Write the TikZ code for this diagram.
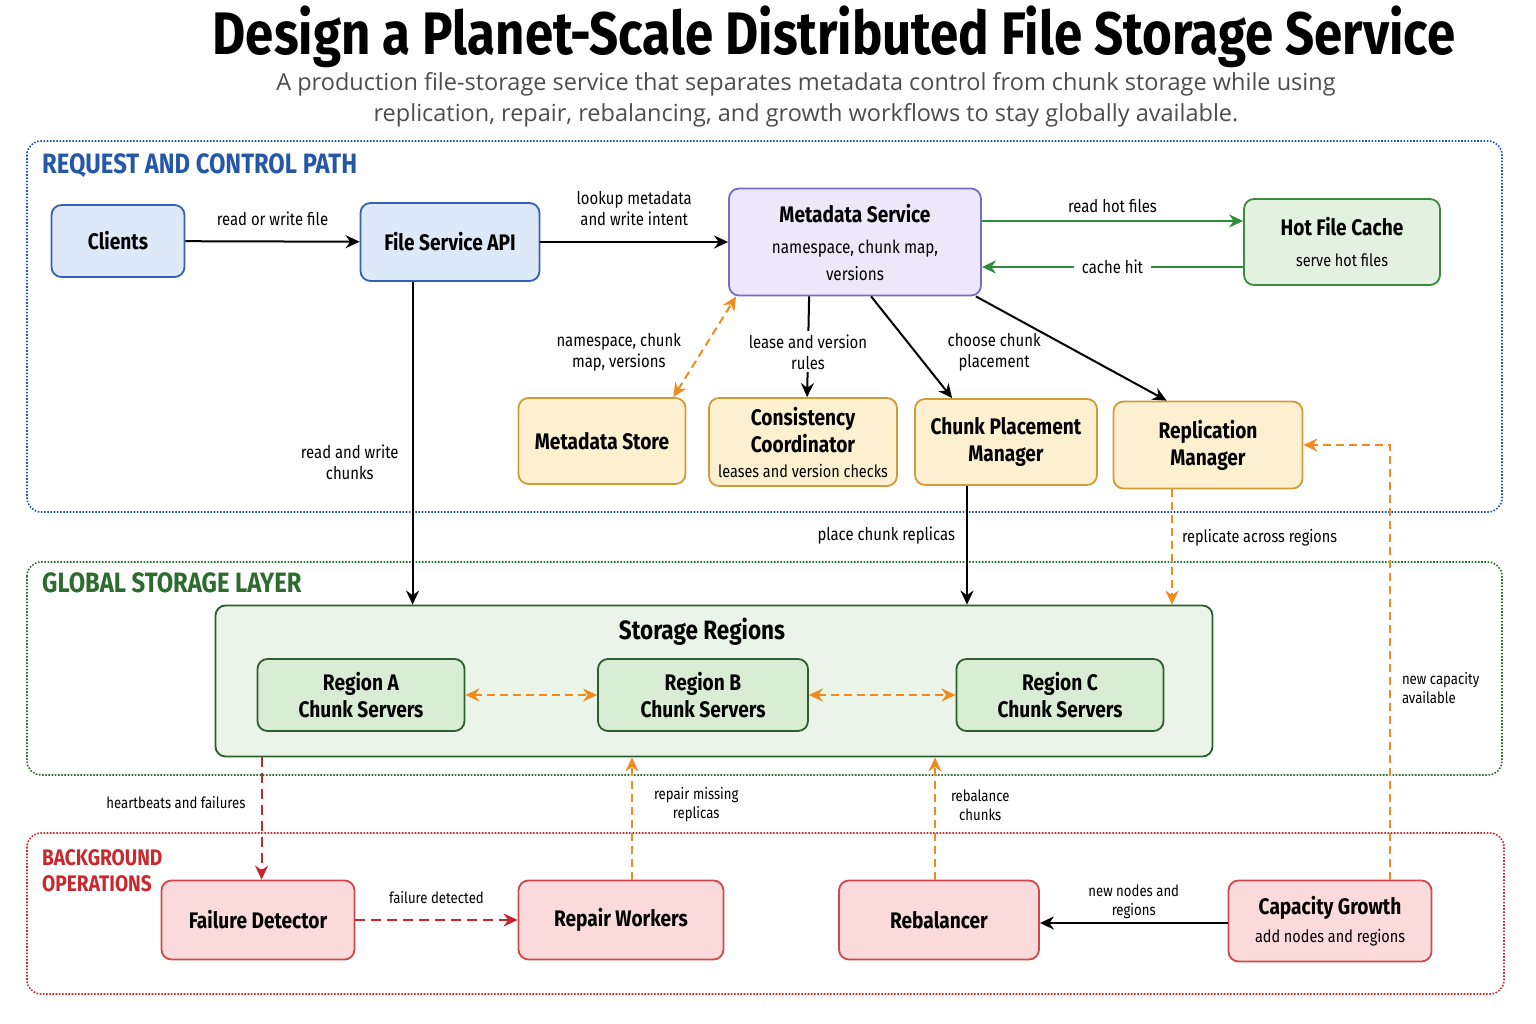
\documentclass[tikz,border=0pt]{standalone}
\usepackage{fontspec}
\setmainfont{Fira Sans}[FakeStretch=0.85]
\newfontfamily\subfont{Open Sans}
\usetikzlibrary{arrows.meta}

\definecolor{blueline}{HTML}{3462B3}
\definecolor{bluefill}{HTML}{DDE8F8}
\definecolor{purpleline}{HTML}{7A6AC8}
\definecolor{purplefill}{HTML}{ECE8F9}
\definecolor{greenline}{HTML}{3C8A3E}
\definecolor{greenfill}{HTML}{E3F2E0}
\definecolor{yellowline}{HTML}{D19B35}
\definecolor{yellowfill}{HTML}{FDF0D0}
\definecolor{darkgreen}{HTML}{2C5E2E}
\definecolor{storefill}{HTML}{EBF4E8}
\definecolor{regionfill}{HTML}{D9EDD4}
\definecolor{redline}{HTML}{D1474A}
\definecolor{redfill}{HTML}{FADADA}
\definecolor{arrorange}{HTML}{F28B1E}
\definecolor{arrred}{HTML}{C2262C}
\definecolor{arrgreen}{HTML}{2E8B3A}
\definecolor{panelblue}{HTML}{2657A6}
\definecolor{panelgreen}{HTML}{2E6B2E}
\definecolor{panelred}{HTML}{C8282E}
\definecolor{subgray}{HTML}{4D4D4D}

\newcommand\headfont{\fontsize{22.5}{27}\selectfont\bfseries}
\newcommand\subtext{\fontsize{17}{23}\selectfont\mdseries}
\newcommand\lblfont{\fontsize{17.5}{21}\selectfont}
\newcommand\smallfont{\fontsize{15.5}{19}\selectfont}
\newcommand\panelfont{\fontsize{28}{27}\selectfont\bfseries}

\begin{document}
\begin{tikzpicture}[x=1pt,y=-1pt,>={Stealth[length=14pt,width=13pt]},
  box/.style={draw,rounded corners=10pt,line width=1.8pt,align=center,font=\headfont,inner sep=2pt},
  bluebox/.style={box,draw=blueline,fill=bluefill},
  purplebox/.style={box,draw=purpleline,fill=purplefill},
  greenbox/.style={box,draw=greenline,fill=greenfill},
  yellowbox/.style={box,draw=yellowline,fill=yellowfill},
  regionbox/.style={box,draw=darkgreen,fill=regionfill},
  redbox/.style={box,draw=redline,fill=redfill},
  panel/.style={rounded corners=14pt,line width=1.6pt,dash pattern=on 1.6pt off 1.6pt},
  panellbl/.style={font=\panelfont,anchor=west,inner sep=0pt},
  lbl/.style={font=\lblfont,align=center,inner sep=3pt},
  blk/.style={->,draw=black,line width=2pt},
  grn/.style={->,draw=arrgreen,line width=2.2pt},
  org/.style={->,draw=arrorange,line width=2pt,dash pattern=on 8pt off 5pt},
  rdd/.style={->,draw=arrred,line width=2.2pt,dash pattern=on 10pt off 6pt}]

\useasboundingbox (0,0) rectangle (1536,1024);

\node[font=\fontsize{60}{62}\selectfont\bfseries] (title) at (834,37) {Design a Planet-Scale Distributed File Storage Service};
\node[font=\subfont\fontsize{23.5}{31}\selectfont,text=subgray,align=center] (subtitle) at (806,100)
  {A production file-storage service that separates metadata control from chunk storage while using\\
   replication, repair, rebalancing, and growth workflows to stay globally available.};

% panels
\draw[panel,draw=panelblue] (27,141) rectangle (1502,512);
\draw[panel,draw=panelgreen] (27,562) rectangle (1502,775);
\draw[panel,draw=panelred] (27,833) rectangle (1504,994);
\node[panellbl,text=panelblue] (reqlbl) at (42,166) {REQUEST AND CONTROL PATH};
\node[panellbl,text=panelgreen] (storelbl) at (42,583) {GLOBAL STORAGE LAYER};
\node[panellbl,text=panelred,anchor=north west,align=left,font=\fontsize{22.5}{26}\selectfont\bfseries] (bglbl) at (42,849) {BACKGROUND\\OPERATIONS};

% request and control path
\node[bluebox,minimum width=133pt,minimum height=72pt] (clients) at (118,241) {Clients};
\node[bluebox,minimum width=179pt,minimum height=78pt] (fsa) at (450,242) {File Service API};
\node[purplebox,minimum width=252pt,minimum height=107pt] (ms) at (855,242)
  {Metadata Service\\[4pt]\subtext\fontsize{18}{23}\selectfont namespace, chunk map,\\ \subtext\fontsize{18}{23}\selectfont versions};
\node[greenbox,minimum width=196pt,minimum height=86pt] (hfc) at (1342,242)
  {Hot File Cache\\[4pt]\subtext serve hot files};
\node[yellowbox,minimum width=167pt,minimum height=86pt] (mds) at (602,441) {Metadata Store};
\node[yellowbox,minimum width=188pt,minimum height=88pt] (cc) at (803,442)
  {Consistency\\Coordinator\\[-2pt]\subtext leases and version checks};
\node[yellowbox,minimum width=182pt,minimum height=86pt] (cpm) at (1006,442) {Chunk Placement\\Manager};
\node[yellowbox,minimum width=189pt,minimum height=87pt] (rm) at (1208,445) {Replication\\Manager};

% storage layer
\node[box,draw=darkgreen,fill=storefill,minimum width=997pt,minimum height=151pt] (sr) at (714,681) {};
\node[font=\fontsize{26.5}{28}\selectfont\bfseries] (srtitle) at (702,632) {Storage Regions};
\node[regionbox,minimum width=207pt,minimum height=72pt] (ra) at (361,695) {Region A\\Chunk Servers};
\node[regionbox,minimum width=210pt,minimum height=72pt] (rb) at (703,695) {Region B\\Chunk Servers};
\node[regionbox,minimum width=207pt,minimum height=72pt] (rc) at (1060,695) {Region C\\Chunk Servers};

% background operations
\node[redbox,minimum width=193pt,minimum height=79pt] (fd) at (258,920) {Failure Detector};
\node[redbox,minimum width=205pt,minimum height=79pt] (rw) at (621,920) {Repair Workers};
\node[redbox,minimum width=200pt,minimum height=79pt] (reb) at (939,920) {Rebalancer};
\node[redbox,minimum width=203pt,minimum height=81pt] (cg) at (1330,921)
  {Capacity Growth\\[1pt]\subtext add nodes and regions};

\path (clients) edge[blk] node[lbl,above=12pt] {read or write file} (fsa);
\path (fsa) edge[blk] node[lbl,above=12pt] {lookup metadata\\and write intent} (ms);
\path ([yshift=21pt]ms.east) edge[grn] node[lbl,above=4pt] {read hot files} ([yshift=21pt]hfc.west);
\path ([yshift=-25pt]hfc.west) edge[grn] node[lbl,fill=white,inner xsep=8pt] {cache hit} ([yshift=-25pt]ms.east);
\path ([xshift=53pt]fsa.south west) edge[blk] node[lbl,pos=0.56,left=10pt] {read and write\\chunks} ([xshift=53pt]fsa.south west |- sr.north);

\path ([xshift=-13pt]mds.north east) edge[org,<->] node[lbl,pos=0.44,left=16pt] {namespace, chunk\\map, versions} ([xshift=8pt]ms.south west);
\path ([xshift=81pt]ms.south west) edge[blk] node[lbl,pos=0.55,fill=white] {lease and version\\rules} ([xshift=99pt]cc.north west);
\path ([xshift=143pt]ms.south west) edge[blk] node[lbl,pos=0.55,right=28pt] {choose chunk\\placement} ([xshift=38pt]cpm.north west);
\path ([xshift=-6pt]ms.south east) edge[blk] ([xshift=54pt]rm.north west);

\path ([xshift=-39pt]cpm.south) edge[blk] node[lbl,pos=0.42,left=8pt] {place chunk replicas} ([xshift=-39pt]cpm.south |- sr.north);
\path ([xshift=-36pt]rm.south) edge[org] node[lbl,font=\subtext,pos=0.42,right=6pt] {replicate across regions} ([xshift=-36pt]rm.south |- sr.north);
\draw[org] ([xshift=60pt]cg.north) |- node[lbl,font=\smallfont,align=left,pos=0.22,right=8pt] {new capacity\\available} (rm.east);

\path (ra) edge[org,<->] (rb);
\path (rb) edge[org,<->] (rc);

\path ([xshift=47pt]sr.south west) edge[rdd] node[lbl,font=\smallfont,pos=0.37,left=12pt] {heartbeats and failures} ([xshift=47pt]sr.south west |- fd.north);
\path (fd) edge[rdd] node[lbl,font=\smallfont,above=12pt] {failure detected} (rw);
\path ([xshift=11pt]rw.north) edge[org] node[lbl,font=\smallfont,pos=0.61,right=18pt] {repair missing\\replicas} ([xshift=11pt]rw.north |- sr.south);
\path ([xshift=-4pt]reb.north) edge[org] node[lbl,font=\smallfont,pos=0.61,right=12pt] {rebalance\\chunks} ([xshift=-4pt]reb.north |- sr.south);
\path ([yshift=-2pt]cg.west) edge[blk] node[lbl,font=\smallfont,above=0pt] {new nodes and\\regions} ([yshift=-3pt]reb.east);

\end{tikzpicture}
\end{document}
